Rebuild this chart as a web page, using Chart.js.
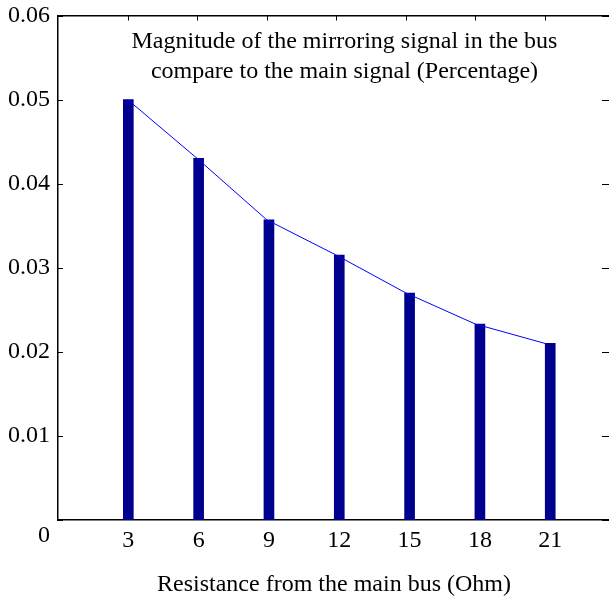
<!DOCTYPE html>
<html>
<head>
<meta charset="utf-8">
<title>Mirroring signal vs resistance</title>
<script src="https://cdn.jsdelivr.net/npm/chart.js@4"></script>
<style>
  html, body { margin: 0; padding: 0; background: #fff; overflow: hidden; }
  canvas { display: block; }
</style>
</head>
<body>
<canvas id="myChart" width="616" height="597"></canvas>
<script>
// ── data ──────────────────────────────────
const resistance = [3, 6, 9, 12, 15, 18, 21];               // Ohm
const magnitude  = [0.050, 0.043, 0.0357, 0.0315, 0.0270, 0.0233, 0.0210];
const yTicks     = [0, 0.01, 0.02, 0.03, 0.04, 0.05, 0.06];
const caption    = ['Magnitude of the mirroring signal in the bus',
                    'compare to the main signal (Percentage)'];
const xTitle     = 'Resistance from the main bus (Ohm)';

const FONT = '"Liberation Serif", "Times New Roman", serif';
Chart.defaults.font.family = FONT;
Chart.defaults.font.size = 24;
Chart.defaults.color = '#000';

// ── inward tick marks + caption inside the axes box ──
const matlabBox = {
  id: 'matlabBox',
  afterDraw(chart) {
    const { ctx, chartArea: a, scales } = chart;
    ctx.save();
    ctx.strokeStyle = '#000';
    ctx.lineWidth = 1;
    ctx.beginPath();
    scales.y.ticks.forEach(t => {
      const py = Math.round(scales.y.getPixelForValue(t.value)) + 0.5;
      ctx.moveTo(a.left, py);      ctx.lineTo(a.left + 5, py);
      ctx.moveTo(a.right - 8, py); ctx.lineTo(a.right, py);
    });
    scales.x2.ticks.forEach(t => {
      const px = Math.round(scales.x2.getPixelForValue(t.value)) + 0.5;
      ctx.moveTo(px, a.top); ctx.lineTo(px, a.top + 5);
    });
    ctx.stroke();

    ctx.fillStyle = '#000';
    ctx.font = '24px ' + FONT;
    ctx.textAlign = 'center';
    ctx.textBaseline = 'alphabetic';
    const cx = a.left + (a.right - a.left) * 0.519;
    caption.forEach((line, i) => ctx.fillText(line, cx, a.top + 32.5 + i * 30));
    ctx.restore();
  }
};

const points = resistance.map((x, i) => ({ x, y: magnitude[i] }));

new Chart(document.getElementById('myChart'), {
  type: 'bar',
  data: {
    datasets: [
      {
        type: 'line',
        data: points,
        xAxisID: 'x2',
        borderColor: '#0000FF',
        borderWidth: 1,
        pointRadius: 0,
        tension: 0,
        order: 0
      },
      {
        data: points,
        xAxisID: 'x',
        backgroundColor: '#00008F',
        barThickness: 10,
        grouped: false,
        order: 1
      }
    ]
  },
  options: {
    responsive: false,
    animation: false,
    layout: { padding: { left: 0, right: 6, top: 0, bottom: 0 } },
    plugins: { legend: { display: false }, tooltip: { enabled: false } },
    scales: {
      x: {
        type: 'linear',
        position: 'bottom',
        offset: false,
        min: 0,
        max: 23.55,
        grid: { display: false, drawTicks: false },
        border: { display: true, color: '#000', width: 1.5 },
        afterBuildTicks: s => { s.ticks = resistance.map(v => ({ value: v })); },
        afterFit: s => { s.height = 77; },
        ticks: { padding: 6, maxRotation: 0, autoSkip: false },
        title: { display: true, text: xTitle, padding: { top: 0, bottom: -2 } }
      },
      x2: {
        type: 'linear',
        position: 'top',
        offset: false,
        min: 0,
        max: 23.8,
        grid: { display: false, drawTicks: false },
        border: { display: true, color: '#000', width: 1.5 },
        afterBuildTicks: s => { s.ticks = resistance.map(v => ({ value: v })); },
        afterFit: s => { s.height = 15.5; },
        ticks: { display: false }
      },
      y: {
        min: 0,
        max: 0.06,
        // tick marks are drawn inward by the plugin; tickLength only spaces the labels
        grid: { display: false, drawTicks: true, tickLength: 8 },
        border: { display: true, color: '#000', width: 1.5 },
        afterBuildTicks: s => { s.ticks = yTicks.map(v => ({ value: v })); },
        afterFit: s => { s.width = 58; },
        ticks: {
          padding: 0,
          font: { lineHeight: 1.28 },
          callback: v => Math.abs(v) < 1e-9 ? ['', '0'] : v.toFixed(2)
        }
      }
    }
  },
  plugins: [matlabBox]
});
</script>
</body>
</html>
